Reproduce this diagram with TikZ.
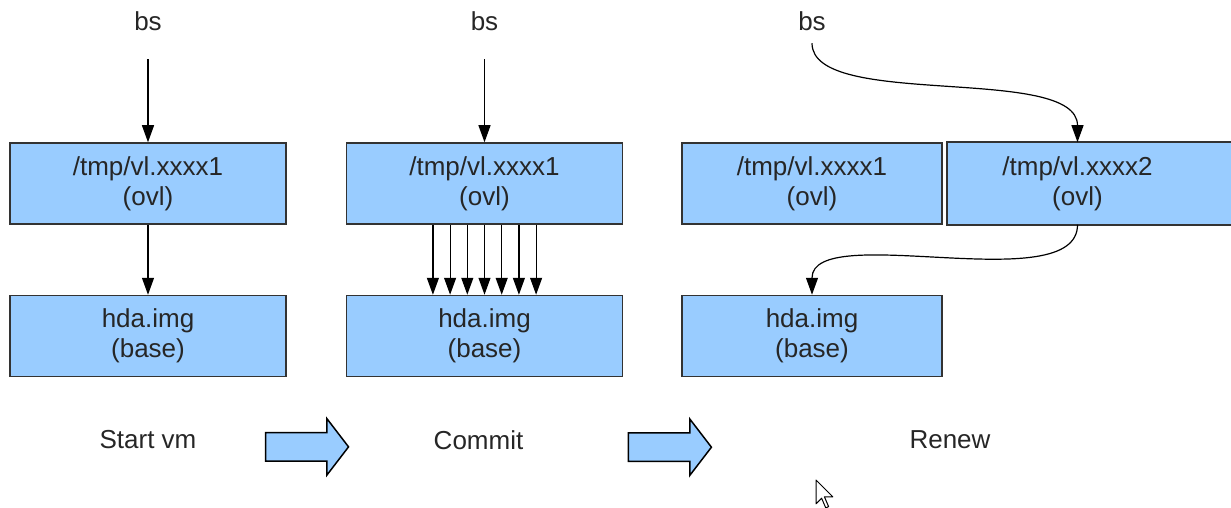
\documentclass[tikz,border=0pt]{standalone}
\usepackage{fontspec}
\setmainfont{Liberation Sans}
\usetikzlibrary{arrows.meta,positioning,shapes.arrows,backgrounds}
\definecolor{boxblue}{HTML}{99CCFF}
\definecolor{edgegray}{HTML}{333333}
\definecolor{txtgray}{HTML}{262626}

\begin{document}
\begin{tikzpicture}[font=\fontsize{13}{15}\selectfont, >={Triangle[length=8.5pt,width=6pt]},
  img/.style={draw=edgegray, fill=boxblue, line width=0.75pt, minimum width=138pt, minimum height=40.5pt, inner sep=0pt, align=center, text=txtgray},
  lbl/.style={inner sep=0pt, text=txtgray},
  nextstep/.style={single arrow, draw=black, fill=boxblue, line width=0.75pt, minimum height=41.5pt, single arrow head extend=7pt, single arrow tip angle=105, inner xsep=0pt, inner ysep=6.75pt, yshift=-3.5pt},
  link/.style={->, line width=0.6pt}]
\useasboundingbox (0,0) rectangle (615.5pt,-254pt);
\node[img] (ovlA) at (74pt,-91.75pt) {/tmp/vl.xxxx1\\(ovl)};
\node[img, below=35pt of ovlA] (baseA) {hda.img\\(base)};
\node[img, right=29.5pt of ovlA] (ovlB) {/tmp/vl.xxxx1\\(ovl)};
\node[img, below=35pt of ovlB] (baseB) {hda.img\\(base)};
\node[img, minimum width=130pt, right=29pt of ovlB] (ovlC) {/tmp/vl.xxxx1\\(ovl)};
\node[img, minimum width=130pt, below=35pt of ovlC] (baseC) {hda.img\\(base)};
\node[img, draw=none, fill=none, minimum width=130pt, right=2pt of ovlC] (ovlD) {/tmp/vl.xxxx2\\(ovl)};
% new overlay runs past the right edge
\begin{scope}[on background layer]
\draw[draw=edgegray, fill=boxblue, line width=0.75pt] (ovlD.north west) rectangle ([xshift=40pt]ovlD.south east);
\end{scope}
\node[lbl, above=55.5pt of ovlA] (bsA) {bs};
\node[lbl, above=55.5pt of ovlB] (bsB) {bs};
\node[lbl, above=55.5pt of ovlC] (bsC) {bs};
\draw[link, shorten <=14pt] (bsA) -- (ovlA);
\draw[link] (ovlA) -- (baseA);
\draw[link, shorten <=14pt] (bsB) -- (ovlB);
\foreach \k in {-3,...,3}
  \draw[link] ([xshift=\k*8.6pt]ovlB.south) -- ([xshift=\k*8.6pt]baseB.north);
\draw[link, shorten <=6pt] (bsC.south) to[out=-90, in=90, looseness=0.7] (ovlD.north);
\draw[link] (ovlD.south) to[out=-90, in=90, looseness=0.7] (baseC.north);
% steps
\node[lbl, below=26.5pt of baseA] (startvm) {Start vm};
\node[lbl, below=26.5pt of baseB, xshift=-3pt] (commit) {Commit};
\node[lbl, below=26.5pt of baseC, xshift=69pt] (renew) {Renew};
\node[nextstep, right=34pt of startvm] (goA) {};
\node[nextstep, right=52pt of commit] (goB) {};
% mouse pointer
\draw[fill=white, line width=0.5pt, line join=round, shift={(408pt,-240pt)}]
  (0,0) -- (0,-11.9pt) -- (2.8pt,-9.1pt) -- (4.9pt,-14pt) -- (6.3pt,-13.3pt) -- (4.2pt,-8.4pt) -- (8.4pt,-8.4pt) -- cycle;
\end{tikzpicture}
\end{document}
